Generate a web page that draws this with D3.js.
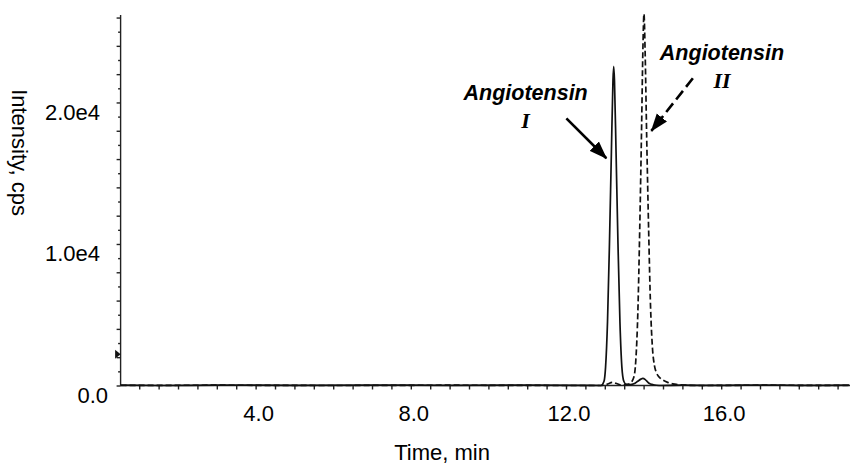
<!DOCTYPE html>
<meta charset="utf-8">
<style>

body {
  margin: 0;
  background-color: #fff;
}

text {
  font-family: "Liberation Sans", Arial, sans-serif;
  fill: #000;
}

.tick-label { font-size: 22px; }
.axis-title { font-size: 22px; }
.ann { font-size: 21.5px; font-weight: bold; font-style: italic; }
.roman {
  font-family: "Liberation Serif", "Times New Roman", serif;
  font-size: 22px; font-weight: bold; font-style: italic;
}

</style>
<body>

<div id="chart"></div>

<script src="https://d3js.org/d3.v7.min.js"></script>
<script>

// solid trace (Angiotensin I), time in min / intensity in cps
var solidTime = [0.52, 1.5, 3.0, 5.0, 7.0, 9.0, 11.0, 12.5, 12.9, 12.98, 13.02, 13.07, 13.12, 13.17, 13.21, 13.23,
                 13.25, 13.29, 13.34, 13.39, 13.44, 13.49, 13.55, 13.65, 13.75, 13.85, 13.93, 13.98, 14.05, 14.13,
                 14.25, 14.4, 15.0, 16.0, 17.0, 18.0, 19.3];
var solidCps  = [20, 0, 30, 10, 30, 10, 30, 10, 0, 300, 1300, 4500, 10000, 16500, 21500, 22550,
                 21500, 16500, 10000, 4500, 1300, 300, 80, 60, 120, 300, 450, 500, 400, 180,
                 50, 0, 20, 10, 30, 10, 20];

// dashed trace (Angiotensin II)
var dashTime = [0.52, 3.0, 6.0, 9.0, 12.0, 12.9, 13.05, 13.2, 13.32, 13.42, 13.55, 13.65, 13.75, 13.8, 13.85,
                13.9, 13.95, 13.98, 14.01, 14.04, 14.08, 14.13, 14.18, 14.23, 14.28, 14.33, 14.4, 14.5, 14.62,
                14.75, 14.9, 15.1, 15.4, 17.0, 19.3];
var dashCps  = [0, 20, 0, 20, 0, 0, 80, 220, 120, 30, 60, 150, 600, 1800, 5000,
                11000, 18500, 23500, 26250, 23500, 17500, 11000, 5500, 2600, 1400, 900, 600, 380, 220,
                120, 60, 20, 0, 20, 0];

var xTickValues = [4, 8, 12, 16];
var xTickLabels = ["4.0", "8.0", "12.0", "16.0"];
var yTickValues = [0, 10000, 20000];
var yTickLabels = ["0.0", "1.0e4", "2.0e4"];

// annotations, in data units
var annText   = ["Angiotensin", "Angiotensin"];
var annRoman  = ["I", "II"];
var annTime   = [10.96, 16.02];
var annCps    = [20180, 23000];
var annRomCps = [18200, 21020];
var arrowFrom = [[12.01, 18880], [15.27, 21710]];
var arrowTo   = [[13.04, 16060], [14.20, 17990]];
var baselineMark = 2200;

drawChart();

function drawChart(){
  var width = 850, height = 467;

  var x = d3.scaleLinear().domain([0.52, 19.32]).range([120.6, 850]);
  var y = d3.scaleLinear().domain([0, 26180]).range([385.5, 15]);

  var svg = d3.select("#chart").append("svg")
    .attr("width", width)
    .attr("height", height);

  var defs = svg.append("defs");
  defs.append("marker")
    .attr("id", "head")
    .attr("markerUnits", "userSpaceOnUse")
    .attr("viewBox", "0 -7 18 14")
    .attr("refX", 17)
    .attr("refY", 0)
    .attr("markerWidth", 18)
    .attr("markerHeight", 14)
    .attr("orient", "auto")
    .append("path")
    .attr("d", "M0,-6.5L18,0L0,6.5Z")
    .style("fill", "#000");

  // x axis: minor ticks every 0.5 min
  var xAxis = d3.axisBottom(x)
    .tickValues(d3.range(1, 19.3, 0.5))
    .tickSize(4)
    .tickFormat("");
  svg.append("g")
    .attr("transform", "translate(0," + y(0) + ")")
    .call(xAxis)
    .call(function(g){
      g.select(".domain").attr("d", "M" + x.range()[0] + ",0H" + x.range()[1]);
      g.selectAll("line, path").style("stroke", "#222").style("stroke-width", 1.4);
    });

  svg.append("g").selectAll("text")
    .data(xTickValues)
    .enter().append("text")
    .attr("class", "tick-label")
    .attr("x", function(d){ return x(d) + 3; })
    .attr("y", y(0) + 35.5)
    .attr("text-anchor", "middle")
    .text(function(d, i){ return xTickLabels[i]; });

  // y axis: ticks every 1000, longer every 2000
  var yAxis = d3.axisLeft(y)
    .tickValues(d3.range(0, 26001, 1000))
    .tickSize(2)
    .tickFormat("");
  var yg = svg.append("g")
    .attr("transform", "translate(" + x.range()[0] + ",0)")
    .call(yAxis);
  yg.select(".domain").attr("d", "M0," + y.range()[1] + "V" + y(0));
  yg.selectAll(".tick line")
    .attr("x2", function(d){ return d % 2000 === 0 ? -4 : -2.5; });
  yg.selectAll("line, path").style("stroke", "#222").style("stroke-width", 1.4);

  svg.append("g").selectAll("text")
    .data(yTickValues)
    .enter().append("text")
    .attr("class", "tick-label")
    .attr("x", function(d){ return d === 0 ? 108 : 100; })
    .attr("y", function(d){ return y(d) + 17.5; })
    .attr("text-anchor", "end")
    .text(function(d, i){ return yTickLabels[i]; });

  // little baseline marker on the y axis
  svg.append("path")
    .attr("transform", "translate(" + x.range()[0] + "," + y(baselineMark) + ")")
    .attr("d", "M-5.5,-4.5L0,0L-5.5,4.5Z")
    .style("fill", "#111");

  // axis titles
  svg.append("text")
    .attr("class", "axis-title")
    .attr("x", 442)
    .attr("y", 460)
    .attr("text-anchor", "middle")
    .text("Time, min");

  svg.append("text")
    .attr("class", "axis-title")
    .attr("transform", "translate(12,152.5) rotate(90)")
    .attr("text-anchor", "middle")
    .text("Intensity, cps");

  // traces
  var line = d3.line()
    .x(function(d){ return x(d[0]); })
    .y(function(d){ return y(d[1]); })
    .curve(d3.curveMonotoneX);

  var dashPts = dashTime.map(function(t, i){ return [t, dashCps[i]]; });
  var solidPts = solidTime.map(function(t, i){ return [t, solidCps[i]]; });

  svg.append("path")
    .datum(dashPts)
    .attr("d", line)
    .style("fill", "none")
    .style("stroke", "#111")
    .style("stroke-width", 1.7)
    .style("stroke-dasharray", "6,3");

  svg.append("path")
    .datum(solidPts)
    .attr("d", line)
    .style("fill", "none")
    .style("stroke", "#111")
    .style("stroke-width", 1.7);

  // annotations
  var ann = svg.append("g");
  ann.selectAll("text.ann")
    .data(annText)
    .enter().append("text")
    .attr("class", "ann")
    .attr("x", function(d, i){ return x(annTime[i]); })
    .attr("y", function(d, i){ return y(annCps[i]); })
    .attr("text-anchor", "middle")
    .text(function(d){ return d; });

  ann.selectAll("text.roman")
    .data(annRoman)
    .enter().append("text")
    .attr("class", "roman")
    .attr("x", function(d, i){ return x(annTime[i]); })
    .attr("y", function(d, i){ return y(annRomCps[i]); })
    .attr("text-anchor", "middle")
    .text(function(d){ return d; });

  ann.selectAll("line")
    .data(arrowFrom)
    .enter().append("line")
    .attr("x1", function(d){ return x(d[0]); })
    .attr("y1", function(d){ return y(d[1]); })
    .attr("x2", function(d, i){ return x(arrowTo[i][0]); })
    .attr("y2", function(d, i){ return y(arrowTo[i][1]); })
    .attr("marker-end", "url(#head)")
    .style("stroke", "#000")
    .style("stroke-width", 2.6)
    .style("stroke-dasharray", function(d, i){ return i === 1 ? "11,5" : null; });
}

</script>
